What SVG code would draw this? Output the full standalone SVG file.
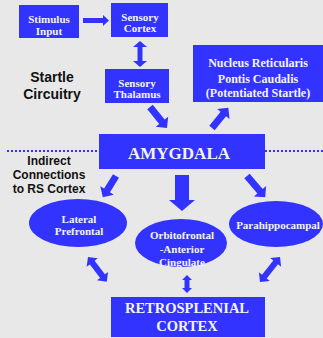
<svg xmlns="http://www.w3.org/2000/svg" width="323" height="338" viewBox="0 0 323 338">
<style>
.box{fill:#3333ff}
.arr{fill:#3333ff}
.t{font-family:"Liberation Serif","Times New Roman",serif;font-weight:bold;fill:#f4f4ff;text-anchor:middle}
.s{font-family:"Liberation Sans",Arial,sans-serif;font-weight:bold;fill:#111;text-anchor:middle}
.dot{stroke:#3333ff;stroke-width:2;stroke-dasharray:2 2}
</style>
<rect width="323" height="338" fill="#e8e8e8"/>
<g id="labels">
<text class="s" font-size="14" x="52" y="82">Startle</text>
<text class="s" font-size="14" x="52" y="99">Circuitry</text>
<text class="s" font-size="12" x="49" y="165">Indirect</text>
<text class="s" font-size="12" x="49" y="179">Connections</text>
<text class="s" font-size="12" x="49" y="193">to RS Cortex</text>
<line class="dot" x1="7" y1="151" x2="99" y2="151"/>
<line class="dot" x1="265" y1="151" x2="323" y2="151"/>
</g>
<g id="stimulus">
<rect class="box" x="19" y="5" width="60" height="33"/>
<text class="t" font-size="11" x="49" y="23">Stimulus</text>
<text class="t" font-size="11" x="49" y="35">Input</text>
</g>
<g id="sensory-cortex">
<rect class="box" x="111" y="3" width="57" height="34"/>
<text class="t" font-size="11" x="140" y="21">Sensory</text>
<text class="t" font-size="11" x="140" y="32">Cortex</text>
</g>
<g id="sensory-thalamus">
<rect class="box" x="105" y="69" width="64" height="34"/>
<text class="t" font-size="11" x="137" y="87">Sensory</text>
<text class="t" font-size="11" x="137" y="98">Thalamus</text>
</g>
<g id="nucleus">
<rect class="box" x="193" y="45" width="130" height="57"/>
<text class="t" font-size="12" x="258" y="67">Nucleus Reticularis</text>
<text class="t" font-size="12" x="258" y="83">Pontis Caudalis</text>
<text class="t" font-size="12" x="258" y="97">(Potentiated Startle)</text>
</g>
<g id="amygdala">
<rect class="box" x="99" y="134" width="166" height="35"/>
<text class="t" font-size="17" x="179" y="159">AMYGDALA</text>
</g>
<g id="lateral-prefrontal">
<ellipse class="box" cx="78" cy="223" rx="49" ry="24"/>
<text class="t" font-size="11" x="79" y="223">Lateral</text>
<text class="t" font-size="11" x="79" y="235">Prefrontal</text>
</g>
<g id="orbitofrontal">
<ellipse class="box" cx="181" cy="243" rx="46" ry="24"/>
<text class="t" font-size="11" x="182" y="239">Orbitofrontal</text>
<text class="t" font-size="11" x="182" y="253">-Anterior</text>
<text class="t" font-size="11" x="182" y="266">Cingulate</text>
</g>
<g id="parahippocampal">
<ellipse class="box" cx="276" cy="224" rx="47" ry="23"/>
<text class="t" font-size="11" x="278" y="229">Parahippocampal</text>
</g>
<g id="retrosplenial">
<rect class="box" x="111" y="297" width="154" height="40"/>
<text class="t" font-size="14.5" x="187" y="313">RETROSPLENIAL</text>
<text class="t" font-size="14.5" x="187" y="331">CORTEX</text>
</g>
<g id="connectors">
<polygon class="arr" transform="translate(83,20.5)" points="0,-2.5 20,-2.5 20,-5.5 26,0 20,5.5 20,2.5 0,2.5"/>
<polygon class="arr" transform="translate(140,41) rotate(90)" points="0,0 6,-7 6,-2.5 20,-2.5 20,-7 26,0 20,7 20,2.5 6,2.5 6,7"/>
<polygon class="arr" transform="translate(150,107) rotate(51)" points="0,-3.5 19,-3.5 19,-8 27,0 19,8 19,3.5 0,3.5"/>
<polygon class="arr" transform="translate(212,128) rotate(-51)" points="0,-3.5 18,-3.5 18,-8 26,0 18,8 18,3.5 0,3.5"/>
<polygon class="arr" transform="translate(116,176) rotate(121.8)" points="0,-3.5 17,-3.5 17,-8 25,0 17,8 17,3.5 0,3.5"/>
<polygon class="arr" transform="translate(182,175) rotate(90)" points="0,-7 25,-7 25,-13 36,0 25,13 25,7 0,7"/>
<polygon class="arr" transform="translate(247,176) rotate(49.4)" points="0,-3.5 20,-3.5 20,-8 28,0 20,8 20,3.5 0,3.5"/>
<polygon class="arr" transform="translate(88,257) rotate(52.8)" points="0,0 7,-7 7,-3 24,-3 24,-7 31,0 24,7 24,3 7,3 7,7"/>
<polygon class="arr" transform="translate(187,275) rotate(90)" points="0,0 5,-5 5,-2.5 13,-2.5 13,-5 18,0 13,5 13,2.5 5,2.5 5,5"/>
<polygon class="arr" transform="translate(280,257) rotate(128.7)" points="0,0 7,-7 7,-3 25,-3 25,-7 32,0 25,7 25,3 7,3 7,7"/>
</g>
</svg>
